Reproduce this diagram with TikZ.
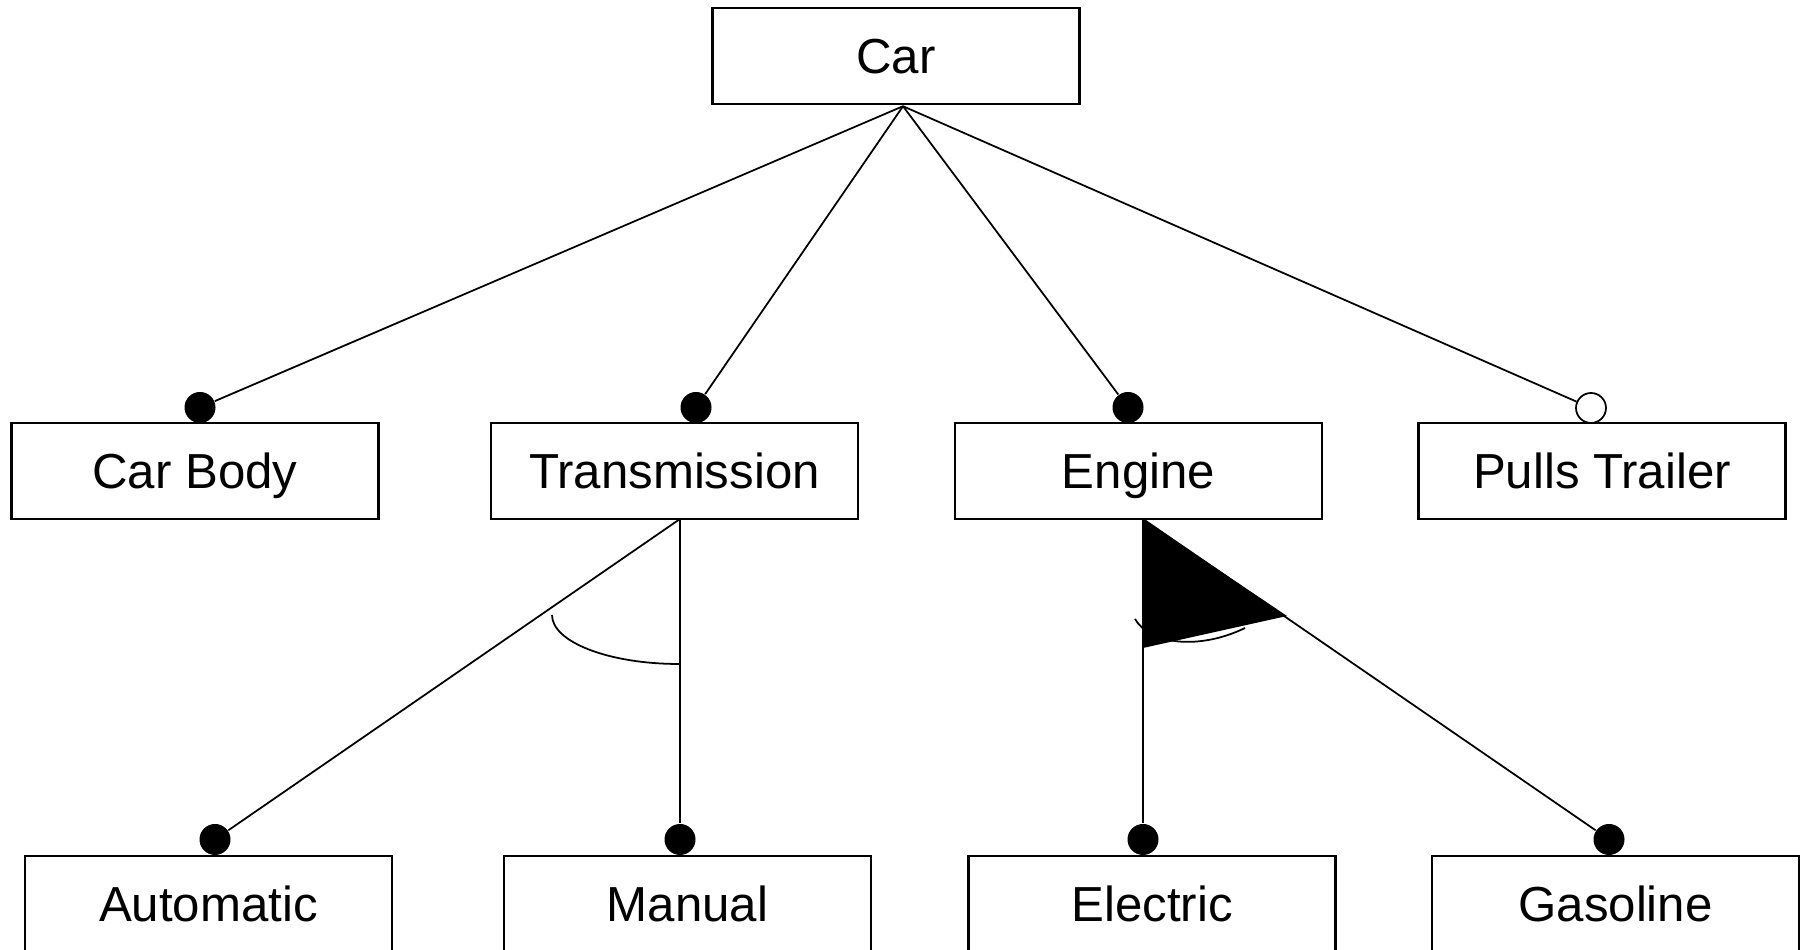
\documentclass[tikz,border=0pt]{standalone}
\usepackage{fontspec}
\setmainfont{Liberation Sans}
\usepackage{tikz}
\usetikzlibrary{calc}

\begin{document}
\begin{tikzpicture}[
  feature/.style={draw, line width=0.7pt, minimum width=3.67cm, minimum height=0.96cm, inner sep=0pt, text height=10.2pt, text depth=0pt, font=\fontsize{14}{16}\selectfont},
  mandatory/.style={circle, fill, inner sep=0pt, minimum size=0.31cm},
  optional/.style={circle, draw, fill=white, line width=0.5pt, inner sep=0pt, minimum size=0.3cm},
  link/.style={line width=0.5pt}
]
\useasboundingbox (0,0) rectangle (18.09,9.5);

\node[feature] (car) at (8.96,8.94) {Car};
\node[feature] (body) at (1.95,4.79) {Car Body};
\node[feature] (trans) at (6.745,4.79) {Transmission};
\node[feature] (engine) at (11.385,4.79) {Engine};
\node[feature] (trailer) at (16.02,4.79) {Pulls Trailer};
\node[feature] (auto) at (2.085,0.46) {Automatic};
\node[feature] (manual) at (6.875,0.46) {Manual};
\node[feature] (electric) at (11.52,0.46) {Electric};
\node[feature] (gas) at (16.155,0.46) {Gasoline};

\node[mandatory] (body-dot) at (2.00,5.425) {};
\node[mandatory] (trans-dot) at (6.96,5.425) {};
\node[mandatory] (engine-dot) at (11.28,5.425) {};
\node[optional] (trailer-dot) at (15.91,5.42) {};
\node[mandatory] (auto-dot) at (2.15,1.105) {};
\node[mandatory] (manual-dot) at (6.80,1.105) {};
\node[mandatory] (electric-dot) at (11.43,1.105) {};
\node[mandatory] (gas-dot) at (16.09,1.105) {};

\coordinate (car-pt) at ($(car.south)+(0.07,-0.01)$);
\coordinate (trans-pt) at (6.80,4.31);
\coordinate (engine-pt) at (11.43,4.31);

\draw[link] (car-pt) -- (body-dot);
\draw[link] (car-pt) -- (trans-dot);
\draw[link] (car-pt) -- (engine-dot);
\draw[link] (car-pt) -- (trailer-dot);
\draw[link] (trans-pt) -- (auto-dot);
\draw[link] (trans-pt) -- (manual-dot);
\draw[link] (engine-pt) -- (electric-dot);
\draw[link] (engine-pt) -- (gas-dot);

\draw[link] (5.52,3.35) arc[start angle=180, end angle=270, x radius=1.27, y radius=0.49];
\draw[link] (11.35,3.31) .. controls (11.5,3.05) and (12.0,3.0) .. (12.45,3.22);
\fill (engine-pt) -- (11.43,3.02) -- (12.87,3.34) -- cycle;
\end{tikzpicture}
\end{document}
